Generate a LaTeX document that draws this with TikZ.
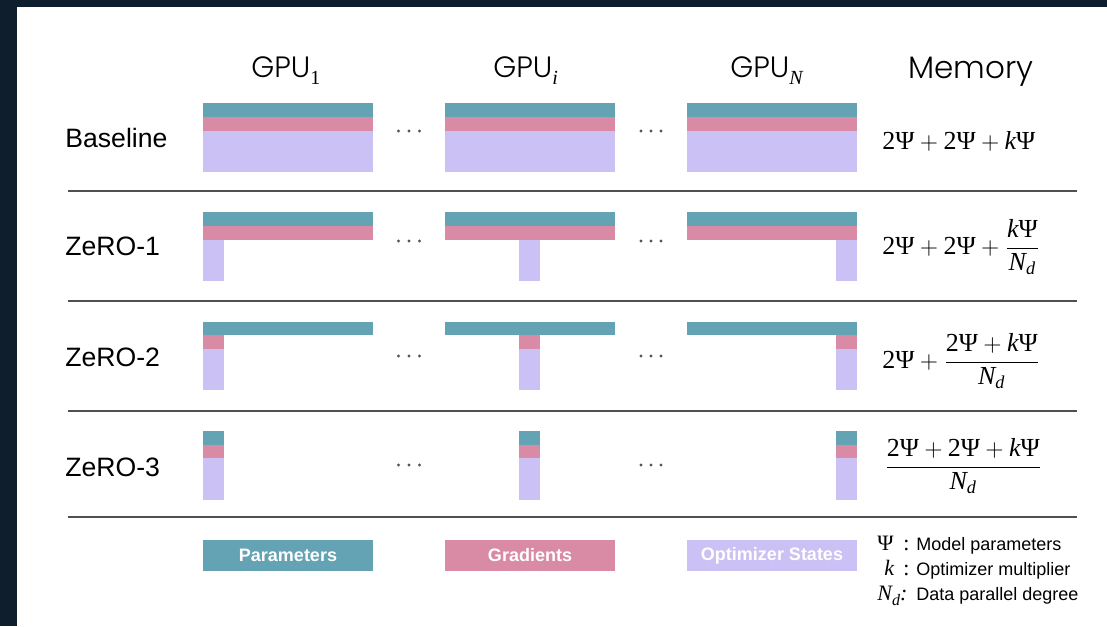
\documentclass[tikz,border=0pt]{standalone}
\usepackage{amsmath}
\usepackage{fontspec}
\setmainfont{Liberation Sans}
\newfontfamily\tms{Liberation Serif}
\newfontfamily\thin{Poppins Light}
\definecolor{pcol}{HTML}{64A3B4}
\definecolor{gcol}{HTML}{D98BA6}
\definecolor{ocol}{HTML}{CCC1F4}
\definecolor{framecol}{HTML}{0E1E2D}
\definecolor{rulecol}{HTML}{505050}
\definecolor{dotcol}{HTML}{555555}
% math pieces set in a Times-like face
\newcommand{\Ps}{\text{\tms Ψ}}
\newcommand{\kv}{\text{\tms\itshape k}}
\newcommand{\Nd}{\text{\tms\itshape N}_{\text{\tms\itshape d}}}
\newcommand{\tw}{\text{\tms 2}}
\newcommand{\gsub}[1]{\raisebox{-3.5pt}{\tms\fontsize{10}{10}\selectfont #1}}
\tikzset{
  header/.style={anchor=base west, inner sep=0pt, font=\thin\fontsize{14.7}{16}\selectfont},
  memhead/.style={anchor=base west, inner sep=0pt, font=\thin\fontsize{15.5}{17}\selectfont},
  rowlabel/.style={anchor=base west, inner sep=0pt, font=\fontsize{13.3}{15}\selectfont},
  formula/.style={anchor=base west, inner sep=0pt, font=\fontsize{13}{15}\selectfont},
  legbox/.style={minimum width=85pt, minimum height=15.5pt, inner sep=0pt, text=white,
    font=\bfseries\fontsize{9}{10}\selectfont},
  legtext/.style={anchor=base west, inner sep=0pt, font=\fontsize{9}{10}\selectfont},
  legsym/.style={anchor=base west, inner sep=0pt, font=\tms\fontsize{11}{12}\selectfont},
  sep/.style={draw=rulecol, line width=0.9pt},
}
\begin{document}
\begin{tikzpicture}[x=0.5pt, y=-0.5pt]
\useasboundingbox (0,0) rectangle (1107,626);
\fill[framecol] (0,0) rectangle (1107,626);
\fill[white] (17,7) rectangle (1107,626);

% column headers
\node[header] (h1) at (251,78) {GPU\gsub{1}};
\node[header] (h2) at (493,78) {GPU\gsub{\itshape i}};
\node[header] (h3) at (730,78) {GPU\gsub{\itshape N}};
\node[memhead] (hm) at (908,79) {Memory};

% row labels
\node[rowlabel] (r0) at (65,148) {Baseline};
\node[rowlabel] (r1) at (65,255) {ZeRO-1};
\node[rowlabel] (r2) at (65,366) {ZeRO-2};
\node[rowlabel] (r3) at (65,476) {ZeRO-3};

% Baseline: every GPU holds everything
\foreach \a in {203,445,687}{
  \fill[pcol] (\a,103) rectangle ++(170,14);
  \fill[gcol] (\a,117) rectangle ++(170,14);
  \fill[ocol] (\a,131) rectangle ++(170,41);
}
% ZeRO-1: optimizer states partitioned
\foreach \a/\s in {203/203,445/519,687/836}{
  \fill[pcol] (\a,212) rectangle ++(170,14);
  \fill[gcol] (\a,226) rectangle ++(170,14);
  \fill[ocol] (\s,240) rectangle ++(21,41);
}
% ZeRO-2: gradients and optimizer states partitioned
\foreach \a/\s in {203/203,445/519,687/836}{
  \fill[pcol] (\a,322) rectangle ++(170,13);
  \fill[gcol] (\s,335) rectangle ++(21,14);
  \fill[ocol] (\s,349) rectangle ++(21,41);
}
% ZeRO-3: everything partitioned
\foreach \s in {203,519,836}{
  \fill[pcol] (\s,431) rectangle ++(21,14);
  \fill[gcol] (\s,445) rectangle ++(21,13);
  \fill[ocol] (\s,458) rectangle ++(21,42);
}

% ellipses between GPUs
\foreach \y in {131,241,356,465}{
  \foreach \x in {398.5,409,419.5,641,651,661}{
    \fill[dotcol] (\x,\y) circle[radius=0.8pt];
  }
}

% separators
\foreach \y in {191,301,411,517}{
  \draw[sep] (68,\y) -- (1077,\y);
}

% memory formulas
\node[formula] (m0) at (882,149) {$\tw\Ps+\tw\Ps+\kv\Ps$};
\node[formula] (m1) at (882,254) {$\tw\Ps+\tw\Ps+\dfrac{\kv\Ps}{\Nd}$};
\node[formula] (m2) at (882,368) {$\tw\Ps+\dfrac{\tw\Ps+\kv\Ps}{\Nd}$};
\node[formula] (m3) at (884,473) {$\dfrac{\tw\Ps+\tw\Ps+\kv\Ps}{\Nd}$};

% legend boxes
\node[legbox, fill=pcol] (lp) at (288,555.5) {Parameters};
\node[legbox, fill=gcol] (lg) at (530,555.5) {Gradients};
\node[legbox, fill=ocol] (lo) at (772,555.5) {Optimizer States};

% symbol key
\node[legsym] (s1) at (877,550) {Ψ};
\node[legsym] (c1) at (903,550) {:};
\node[legtext] (t1) at (916,550) {Model parameters};
\node[legsym] (s2) at (884,575) {\itshape k};
\node[legsym] (c2) at (903,575) {:};
\node[legtext] (t2) at (916,575) {Optimizer multiplier};
\node[legsym] (s3) at (877,600) {\itshape N\raisebox{-2.5pt}{\fontsize{8}{8}\selectfont d}:};
\node[legtext] (t3) at (916,600) {Data parallel degree};
\end{tikzpicture}
\end{document}
